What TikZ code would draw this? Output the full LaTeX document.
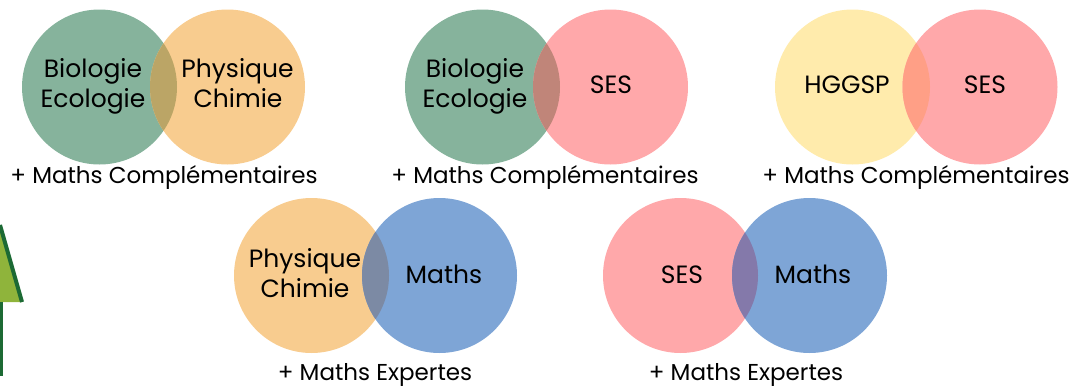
\documentclass[tikz,border=0pt]{standalone}
\usepackage{fontspec}
\setmainfont{Poppins}
\definecolor{cgreen}{HTML}{86B39C}
\definecolor{corange}{HTML}{F8CC8F}
\definecolor{cpink}{HTML}{FFA8AA}
\definecolor{cyellow}{HTML}{FFEBAC}
\definecolor{cblue}{HTML}{7EA5D6}
\definecolor{mGO}{HTML}{BBA566}
\definecolor{mGP}{HTML}{C08579}
\definecolor{mYP}{HTML}{FF9F86}
\definecolor{mOB}{HTML}{7C8AA4}
\definecolor{mPB}{HTML}{8479AA}
\definecolor{arrdark}{HTML}{1C6A34}
\definecolor{arrlime}{HTML}{8FB43B}
\begin{document}
\begin{tikzpicture}[x=1pt,y=-1pt,
  disc/.style={circle,minimum size=155pt,inner sep=0pt,draw=none},
  lbl/.style={anchor=base,inner sep=0pt,font=\fontsize{25}{30}\selectfont},
  captxt/.style={anchor=base,inner sep=0pt,font=\fontsize{23}{28}\selectfont}]
\useasboundingbox (0,0) rectangle (1080,389);
% arrow fragment at left
\fill[arrlime] (22,302) -- (0,225) -- (-30,225) -- (-30,302) -- cycle;
\draw[arrdark,line width=4pt] (0,225) -- (22,302);
\draw[arrdark,line width=2.5pt] (1.5,302) -- (1.5,376);
% circles
\node[disc,fill=cgreen]  (a1) at (99.5,87) {};
\node[disc,fill=corange] (a2) at (227.5,87) {};
\node[disc,fill=cgreen]  (b1) at (482.5,87) {};
\node[disc,fill=cpink]   (b2) at (610.5,87) {};
\node[disc,fill=cyellow] (c1) at (852.5,87) {};
\node[disc,fill=cpink]   (c2) at (980,87) {};
\node[disc,fill=corange] (d1) at (311.5,275.5) {};
\node[disc,fill=cblue]   (d2) at (439.5,275.5) {};
\node[disc,fill=cpink]   (e1) at (680.5,275.5) {};
\node[disc,fill=cblue]   (e2) at (809.5,275.5) {};
% overlaps
\begin{scope}\clip (a1) circle[radius=77.5pt]; \fill[mGO] (a2) circle[radius=77.5pt];\end{scope}
\begin{scope}\clip (b1) circle[radius=77.5pt]; \fill[mGP] (b2) circle[radius=77.5pt];\end{scope}
\begin{scope}\clip (c1) circle[radius=77.5pt]; \fill[mYP] (c2) circle[radius=77.5pt];\end{scope}
\begin{scope}\clip (d1) circle[radius=77.5pt]; \fill[mOB] (d2) circle[radius=77.5pt];\end{scope}
\begin{scope}\clip (e1) circle[radius=77.5pt]; \fill[mPB] (e2) circle[radius=77.5pt];\end{scope}
% labels
\node[lbl] (t1a) at (93,77) {Biologie};
\node[lbl] (t1b) at (93,107) {Ecologie};
\node[lbl] (t2a) at (237.5,77) {Physique};
\node[lbl] (t2b) at (238,107) {Chimie};
\node[captxt] (k1) at (164,183) {+ Maths Complémentaires};
\node[lbl] (t3a) at (475,77) {Biologie};
\node[lbl] (t3b) at (475,107) {Ecologie};
\node[lbl] (t4) at (611,93) {SES};
\node[captxt] (k2) at (545,183) {+ Maths Complémentaires};
\node[lbl] (t5) at (847,93) {HGGSP};
\node[lbl] (t6) at (985,93) {SES};
\node[captxt] (k3) at (916,183) {+ Maths Complémentaires};
\node[lbl] (t7a) at (305,267) {Physique};
\node[lbl] (t7b) at (305,297) {Chimie};
\node[lbl] (t8) at (444,283) {Maths};
\node[captxt] (k4) at (375,380) {+ Maths Expertes};
\node[lbl] (t9) at (682,283) {SES};
\node[lbl] (t10) at (813,283) {Maths};
\node[captxt] (k5) at (746,380) {+ Maths Expertes};
\end{tikzpicture}
\end{document}
